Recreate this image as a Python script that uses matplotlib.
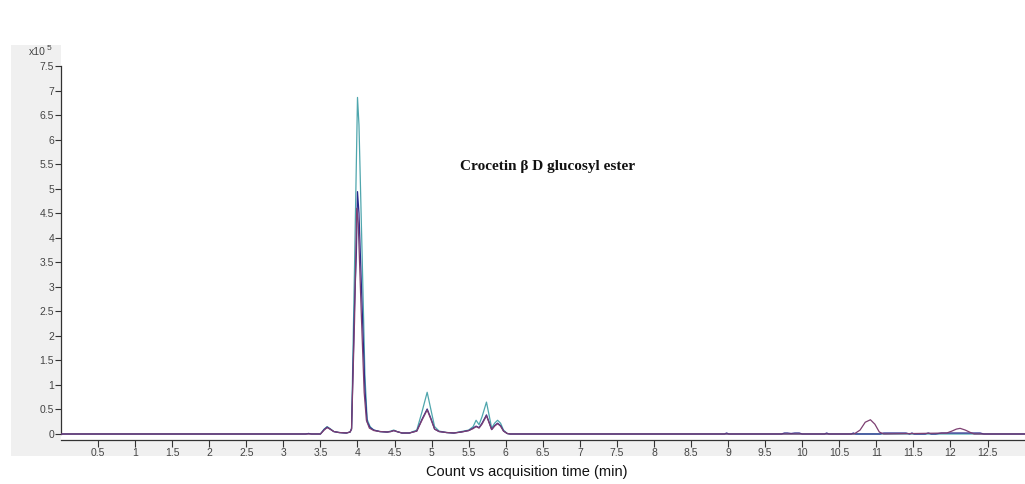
import matplotlib
matplotlib.use("Agg")
import matplotlib.pyplot as plt
from matplotlib.patches import Rectangle

# ---- data (time in min, counts in x10^5) ----
teal_t = [0.0, 3.30, 3.34, 3.38, 3.50, 3.55, 3.59, 3.63, 3.68, 3.75, 3.85, 3.90, 3.92, 3.96, 4.00,
          4.02, 4.06, 4.10, 4.13, 4.17, 4.22, 4.30, 4.40, 4.45, 4.49, 4.53, 4.60, 4.70, 4.80, 4.87,
          4.94, 4.99, 5.04, 5.10, 5.20, 5.30, 5.40, 5.50, 5.56, 5.60, 5.64, 5.68, 5.74, 5.78, 5.81,
          5.85, 5.89, 5.93, 5.97, 6.02, 6.06, 13.0]
teal_v = [0.0, 0.0, 0.01, 0.0, 0.0, 0.10, 0.15, 0.11, 0.05, 0.03, 0.02, 0.04, 0.12, 3.40, 6.86,
          6.30, 3.80, 1.20, 0.30, 0.15, 0.08, 0.05, 0.04, 0.06, 0.08, 0.05, 0.02, 0.02, 0.08, 0.45,
          0.85, 0.50, 0.15, 0.06, 0.03, 0.02, 0.05, 0.08, 0.15, 0.28, 0.19, 0.35, 0.65, 0.35, 0.12,
          0.22, 0.28, 0.22, 0.08, 0.01, 0.0, 0.0]

navy_t = [0.0, 3.30, 3.34, 3.38, 3.50, 3.55, 3.59, 3.63, 3.68, 3.75, 3.85, 3.90, 3.92, 3.96, 3.985,
          4.00, 4.02, 4.06, 4.10, 4.13, 4.17, 4.22, 4.30, 4.40, 4.45, 4.49, 4.53, 4.60, 4.70, 4.80,
          4.87, 4.94, 4.99, 5.04, 5.10, 5.20, 5.30, 5.40, 5.50, 5.56, 5.60, 5.64, 5.68, 5.74, 5.78,
          5.81, 5.85, 5.89, 5.93, 5.97, 6.02, 6.06, 8.95, 8.98, 9.01, 9.72, 9.76, 9.80, 9.85, 9.90,
          9.96, 10.00, 10.30, 10.33, 10.36, 10.66, 10.69, 10.72, 11.05, 11.10, 11.40, 11.45, 11.48,
          11.51, 11.66, 11.70, 11.74, 11.80, 11.88, 12.40, 12.45, 13.0]
navy_v = [0.0, 0.0, 0.01, 0.0, 0.0, 0.09, 0.14, 0.10, 0.05, 0.03, 0.02, 0.04, 0.10, 2.60, 3.70,
          4.94, 4.50, 2.70, 0.90, 0.25, 0.13, 0.08, 0.05, 0.04, 0.05, 0.07, 0.05, 0.02, 0.02, 0.06,
          0.30, 0.51, 0.32, 0.10, 0.05, 0.03, 0.02, 0.04, 0.07, 0.12, 0.16, 0.13, 0.22, 0.39, 0.22,
          0.09, 0.17, 0.22, 0.17, 0.06, 0.01, 0.0, 0.0, 0.02, 0.0, 0.0, 0.02, 0.02, 0.01, 0.02,
          0.02, 0.0, 0.0, 0.02, 0.0, 0.0, 0.02, 0.0, 0.0, 0.02, 0.02, 0.0, 0.02,
          0.0, 0.0, 0.02, 0.0, 0.0, 0.02, 0.02, 0.0, 0.0]

purple_t = [0.0, 3.50, 3.55, 3.59, 3.63, 3.68, 3.75, 3.85, 3.90, 3.92, 3.96, 3.99, 4.01, 4.05,
            4.09, 4.12, 4.16, 4.22, 4.30, 4.40, 4.45, 4.49, 4.53, 4.60, 4.70, 4.80, 4.87, 4.94,
            4.99, 5.04, 5.10, 5.20, 5.30, 5.40, 5.50, 5.56, 5.60, 5.64, 5.68, 5.74, 5.78, 5.81,
            5.85, 5.89, 5.93, 5.97, 6.02, 6.06, 10.70, 10.78, 10.85, 10.92, 10.98, 11.04, 11.10,
            11.95, 12.02, 12.08, 12.13, 12.20, 12.27, 12.32, 13.0]
purple_v = [0.0, 0.0, 0.08, 0.13, 0.10, 0.05, 0.03, 0.02, 0.04, 0.10, 2.30, 4.60, 4.30, 2.50,
            0.85, 0.28, 0.12, 0.07, 0.05, 0.04, 0.05, 0.07, 0.05, 0.02, 0.02, 0.06, 0.28, 0.49,
            0.30, 0.10, 0.05, 0.03, 0.02, 0.04, 0.07, 0.11, 0.15, 0.12, 0.20, 0.37, 0.21, 0.09,
            0.16, 0.21, 0.16, 0.06, 0.01, 0.0, 0.0, 0.08, 0.24, 0.29, 0.20, 0.04, 0.0,
            0.02, 0.06, 0.10, 0.115, 0.08, 0.03, 0.0, 0.0]

x_ticks = [0.5 * i for i in range(1, 26)]
y_ticks = [0.5 * i for i in range(0, 16)]

title_text = "Crocetin \u03b2 D glucosyl ester"
x_label = "Count vs acquisition time (min)"

W, H = 1025, 484
fig = plt.figure(figsize=(W / 100, H / 100), dpi=100)
fig.patch.set_facecolor("white")

def fx(px):
    return px / W

def fy(py):
    return 1 - py / H

# gray frame panel behind axes
fig.patches.append(Rectangle((fx(11), fy(456)), fx(1025) - fx(11), fy(45) - fy(456),
                             transform=fig.transFigure, facecolor="#f0f0f0",
                             edgecolor="none", zorder=-10))

ax = fig.add_axes([fx(61), fy(440), fx(1025) - fx(61), fy(45) - fy(440)])
ax.set_zorder(1)
ax.set_facecolor("white")

def lab(v):
    return ("%g" % v)

ax.plot(teal_t, teal_v, color="#4fa6ad", lw=0.9, zorder=2)
ax.plot(navy_t, navy_v, color="#2a2a8c", lw=0.9, zorder=3)
ax.plot(purple_t, purple_v, color="#7d3f72", lw=0.9, zorder=4)

ax.set_xlim(0, (1025 - 60) / 74.2)
ax.set_ylim(-6 / 49.0, 7.5 + 21 / 49.0)

for s in ["top", "right"]:
    ax.spines[s].set_visible(False)
ax.spines["left"].set_bounds(0, 7.5)
ax.spines["left"].set_color("#333333")
ax.spines["bottom"].set_color("#333333")
ax.spines["left"].set_linewidth(0.9)
ax.spines["bottom"].set_linewidth(0.9)

ax.set_xticks(x_ticks)
ax.set_xticklabels([lab(v) for v in x_ticks])
ax.set_yticks(y_ticks)
ax.set_yticklabels([lab(v) for v in y_ticks])
ax.tick_params(axis="both", direction="out", labelsize=7.5, labelcolor="#444444",
               color="#333333", width=0.8)
ax.tick_params(axis="x", length=5, pad=1)
ax.tick_params(axis="y", length=4, pad=1)
for t in ax.get_xticklabels() + ax.get_yticklabels():
    t.set_fontfamily("Liberation Sans")

fig.text(fx(29), fy(52), "x10", fontsize=7.5, family="Liberation Sans",
         color="#444444", ha="left", va="center", zorder=5)
fig.text(fx(47), fy(48), "5", fontsize=6, family="Liberation Sans",
         color="#444444", ha="left", va="center", zorder=5)

fig.text(fx(548), fy(166), title_text, fontsize=11, family="Liberation Serif",
         fontweight="bold", color="#111111", ha="center", va="center", zorder=5)
fig.text(fx(527), fy(472), x_label, fontsize=10.5, family="Liberation Sans",
         color="#111111", ha="center", va="center", zorder=5)

fig.savefig("out.png", dpi=100, facecolor="white")
